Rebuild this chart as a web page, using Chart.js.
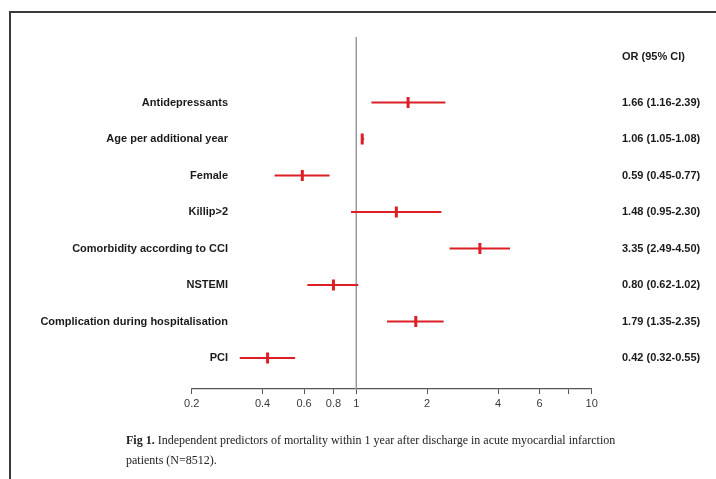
<!DOCTYPE html>
<html>
<head>
<meta charset="utf-8">
<script src="https://cdn.jsdelivr.net/npm/chart.js@4/dist/chart.umd.min.js"></script>
<style>
  html, body { margin: 0; padding: 0; background: #fff; }
  #wrap { position: relative; width: 716px; height: 479px; overflow: hidden; background: #fff; }
  #frame { position: absolute; left: 9px; top: 11px; right: -10px; bottom: -10px;
           border-top: 2px solid #3a3a3a; border-left: 2px solid #3a3a3a; }
  canvas { position: absolute; left: 0; top: 0; }
  #caption { position: absolute; left: 126px; top: 430px; white-space: nowrap;
             font-family: "Liberation Serif", "Times New Roman", serif; font-size: 12px;
             line-height: 20px; color: #222; }
</style>
</head>
<body>
<div id="wrap">
  <div id="frame"></div>
  <canvas id="forest" width="716" height="479"></canvas>
  <div id="caption"><b>Fig 1.</b> Independent predictors of mortality within 1 year after discharge in acute myocardial infarction<br>patients (N=8512).</div>
</div>
<script>
// Predictors, top to bottom
const predictors = [
  'Antidepressants',
  'Age per additional year',
  'Female',
  'Killip>2',
  'Comorbidity according to CCI',
  'NSTEMI',
  'Complication during hospitalisation',
  'PCI'
];
// Odds ratios with 95% confidence limits
const oddsRatio = [1.66, 1.06, 0.59, 1.48, 3.35, 0.80, 1.79, 0.42];
const ciLower   = [1.16, 1.05, 0.45, 0.95, 2.49, 0.62, 1.35, 0.32];
const ciUpper   = [2.39, 1.08, 0.77, 2.30, 4.50, 1.02, 2.35, 0.55];

// Log axis ticks
const xTickValues = [0.2, 0.4, 0.6, 0.8, 1, 2, 4, 6, 8, 10];
const xTickLabels = ['0.2', '0.4', '0.6', '0.8', '1', '2', '4', '6', '', '10'];

const orHeader = 'OR (95% CI)';
const nullEffect = 1;

// Row axis range (row 0 at top) and header row position
const rowMin = -1.8;
const rowMax = 7.85;
const headerRow = -1.25;

const RED = '#dc1f26';
const FONT_FAMILY = '"Liberation Sans", Arial, sans-serif';
const rows = predictors.map((_, i) => i);
const orText = oddsRatio.map((v, i) =>
  v.toFixed(2) + ' (' + ciLower[i].toFixed(2) + '-' + ciUpper[i].toFixed(2) + ')');

const labelFont = { family: FONT_FAMILY, size: 11, weight: 'bold' };

// Predictor names sit inside the plot, right-aligned a fixed distance
// right of the plot's left edge; mirrored ticks need the widest label.
const measureCtx = document.createElement('canvas').getContext('2d');
measureCtx.font = 'bold 11px ' + FONT_FAMILY;
const widestName = Math.max(...predictors.map(t => measureCtx.measureText(t).width));
const nameInset = 36.3;

// One short segment per confidence interval
const ciSets = rows.map(i => ({
  type: 'scatter',
  data: [{ x: ciLower[i], y: i }, { x: ciUpper[i], y: i }],
  showLine: true,
  borderColor: RED,
  borderWidth: 2,
  pointRadius: 0,
  order: 2
}));

// Point estimates as vertical ticks
const estimateSet = {
  type: 'scatter',
  data: rows.map(i => ({ x: oddsRatio[i], y: i })),
  pointStyle: 'line',
  rotation: 90,
  pointRadius: 5.5,
  pointBorderWidth: 3,
  pointBorderColor: RED,
  pointBackgroundColor: RED,
  order: 1
};

// Line of no effect
const nullLine = {
  type: 'scatter',
  data: [{ x: nullEffect, y: rowMin }, { x: nullEffect, y: rowMax }],
  showLine: true,
  borderColor: '#9a9a9a',
  borderWidth: 1.5,
  pointRadius: 0,
  order: 3
};

new Chart(document.getElementById('forest'), {
  type: 'scatter',
  data: { datasets: [...ciSets, estimateSet, nullLine] },
  options: {
    responsive: false,
    devicePixelRatio: 1,
    animation: false,
    events: [],
    layout: { padding: { top: 34, left: 10, right: 0, bottom: 0 } },
    plugins: { legend: { display: false }, tooltip: { enabled: false } },
    scales: {
      x: {
        type: 'logarithmic',
        min: 0.2,
        max: 10,
        afterBuildTicks: s => { s.ticks = xTickValues.map(v => ({ value: v })); },
        afterFit: s => { s.height = 90; },
        ticks: {
          autoSkip: false,
          maxRotation: 0,
          padding: 3,
          color: '#3a3a3a',
          font: { family: FONT_FAMILY, size: 11 },
          callback: (v, idx) => xTickLabels[idx]
        },
        grid: { display: true, drawOnChartArea: false, drawTicks: true, tickLength: 5, color: '#555', lineWidth: 1 },
        border: { display: true, color: '#555', width: 1.3 }
      },
      y: {
        type: 'linear',
        position: 'left',
        reverse: true,
        min: rowMin,
        max: rowMax,
        afterBuildTicks: s => { s.ticks = rows.map(i => ({ value: i })); },
        afterFit: s => { s.width = 181.7; },
        ticks: {
          autoSkip: false,
          mirror: true,
          crossAlign: 'far',
          padding: nameInset - widestName,
          color: '#1a1a1a',
          font: labelFont,
          callback: (v, idx) => predictors[idx]
        },
        grid: { display: false, drawTicks: false },
        border: { display: false }
      },
      y2: {
        type: 'linear',
        position: 'right',
        reverse: true,
        min: rowMin,
        max: rowMax,
        afterBuildTicks: s => { s.ticks = [headerRow, ...rows].map(v => ({ value: v })); },
        afterFit: s => { s.width = 124.3; },
        ticks: {
          autoSkip: false,
          padding: 30.3,
          color: '#1a1a1a',
          font: labelFont,
          callback: (v, idx) => (idx === 0 ? orHeader : orText[idx - 1])
        },
        grid: { display: false, drawTicks: false },
        border: { display: false }
      }
    }
  }
});
</script>
</body>
</html>
